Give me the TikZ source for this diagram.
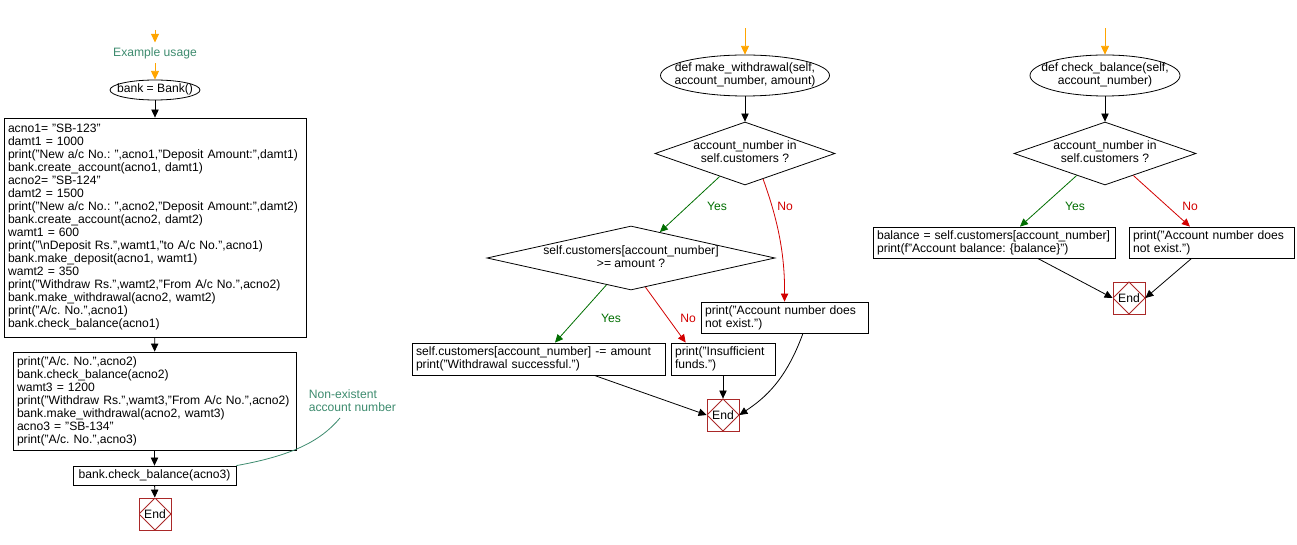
\documentclass[tikz,border=0pt]{standalone}
\usepackage{fontspec}
\setmainfont{Liberation Sans}
\usetikzlibrary{shapes.geometric,arrows.meta,calc}
\definecolor{orng}{RGB}{255,165,0}
\definecolor{cmt}{RGB}{61,139,110}
\definecolor{ygreen}{RGB}{0,110,0}
\definecolor{nred}{RGB}{210,0,0}
\definecolor{endred}{RGB}{170,40,40}
\frenchspacing
\newcommand{\zw}[1]{\makebox[0pt]{\begin{tabular}{@{}c@{}}#1\end{tabular}}}
\begin{document}
\begin{tikzpicture}[x=0.75pt,y=-0.75pt,line width=0.6pt,
  every node/.style={font=\fontsize{9.1}{9.75}\selectfont},
  box/.style={draw,rectangle,inner xsep=3pt,inner ysep=0pt,align=left},
  ell/.style={draw,ellipse,inner sep=0pt,align=center},
  dia/.style={draw,diamond,inner sep=0pt,align=center},
  endbox/.style={draw=endred,rectangle,minimum size=24pt,inner sep=0pt,
    path picture={\draw[endred] (path picture bounding box.north) -- (path picture bounding box.east) -- (path picture bounding box.south) -- (path picture bounding box.west) -- cycle;}},
  arr/.style={-{Triangle[length=6pt,width=5.5pt]}},
  oarr/.style={draw=orng,-{Triangle[length=6.5pt,width=6pt]}},
  yesline/.style={draw=ygreen,arr},
  noline/.style={draw=nred,arr},
  ylbl/.style={text=ygreen},
  nlbl/.style={text=nred},
  cmtxt/.style={text=cmt,align=left}]
\useasboundingbox (0,0) rectangle (1297,545);

% ---------------- left column ----------------
\coordinate (s1) at (155,30);
\node[cmtxt] (ex) at (155,53) {Example usage};
\node[ell,minimum width=67.5pt,minimum height=15pt] (bank) at (155,90) {\zw{bank = Bank()}};
\node[box,minimum width=226.5pt,minimum height=164.25pt,text width=220.5pt] (b1) at (155,227.5) {acno1= "SB-123"\\
damt1 = 1000\\
print("New a/c No.: ",acno1,"Deposit Amount:",damt1)\\
bank.create\_account(acno1, damt1)\\
acno2= "SB-124"\\
damt2 = 1500\\
print("New a/c No.: ",acno2,"Deposit Amount:",damt2)\\
bank.create\_account(acno2, damt2)\\
wamt1 = 600\\
print("\textbackslash nDeposit Rs.",wamt1,"to A/c No.",acno1)\\
bank.make\_deposit(acno1, wamt1)\\
wamt2 = 350\\
print("Withdraw Rs.",wamt2,"From A/c No.",acno2)\\
bank.make\_withdrawal(acno2, wamt2)\\
print("A/c. No.",acno1)\\
bank.check\_balance(acno1)};
\node[box,minimum width=212.25pt,minimum height=73.5pt,text width=206.25pt] (b2) at (154.5,401) {print("A/c. No.",acno2)\\
bank.check\_balance(acno2)\\
wamt3 = 1200\\
print("Withdraw Rs.",wamt3,"From A/c No.",acno2)\\
bank.make\_withdrawal(acno2, wamt3)\\
acno3 = "SB-134"\\
print("A/c. No.",acno3)};
\node[box,minimum width=122.25pt,minimum height=14.25pt,align=center] (b3) at (154.5,475.5) {bank.check\_balance(acno3)};
\node[endbox] (e1) at (155,514) {End};
\node[cmtxt,anchor=west] (nc) at (304,401) {Non-existent\\account number};
\coordinate (ncend) at (340,418);

\draw[oarr] (s1) -- (ex);
\draw[oarr] (ex) -- (bank);
\draw[arr] (bank) -- (b1);
\draw[arr] (b1) -- (b2);
\draw[arr] (b2) -- (b3);
\draw[arr] (b3) -- (e1);
\draw[cmt] (ncend) .. controls (320,442) and (290,456) .. (b3.north east);

% ---------------- middle column ----------------
\coordinate (s2) at (745,28);
\node[ell,minimum width=126.75pt,minimum height=30.75pt] (mw) at (745,75.5) {\zw{def make\_withdrawal(self,\\account\_number, amount)}};
\node[dia,minimum width=135pt,minimum height=47.25pt] (d1) at (745,153.5) {\zw{account\_number in\\self.customers ?}};
\node[dia,minimum width=216pt,minimum height=48pt] (d2) at (631,258) {\zw{self.customers[account\_number]\\>= amount ?}};
\node[box,minimum width=189.75pt,minimum height=24pt,text width=183.75pt] (pw) at (538.5,359) {self.customers[account\_number] -= amount\\print("Withdrawal successful.")};
\node[box,minimum width=78pt,minimum height=24pt,text width=72pt] (pi) at (723,359) {print("Insufficient\\funds.")};
\node[box,minimum width=125.25pt,minimum height=23.25pt,text width=119.25pt] (pa) at (784.5,317.5) {print("Account number does\\not exist.")};
\node[endbox] (e2) at (723,415) {End};
\node[ylbl] (y1) at (717,206) {Yes};
\node[nlbl] (n1) at (785,206) {No};
\node[ylbl] (y2) at (611,318) {Yes};
\node[nlbl] (n2) at (688,318) {No};

\draw[oarr] (s2) -- (mw);
\draw[arr] (mw) -- (d1);
\draw[yesline] ($(d1.west)!0.72!(d1.south)$) -- ($(d2.north)!0.2!(d2.east)$);
\draw[noline] ($(d1.south)!0.2!(d1.east)$) .. controls (776,215) and (785,250) .. (pa.north);
\draw[yesline] ($(d2.west)!0.83!(d2.south)$) -- ($(pw.north west)!0.565!(pw.north east)$);
\draw[noline] ($(d2.south)!0.1!(d2.east)$) -- ($(pi.north west)!0.144!(pi.north east)$);
\draw[arr] ($(pw.south west)!0.72!(pw.south east)$) -- (e2.west);
\draw[arr] (pi) -- (e2);
\draw[arr] ($(pa.south west)!0.61!(pa.south east)$) .. controls (786,380) and (765,398) .. (e2.east);

% ---------------- right column ----------------
\coordinate (s3) at (1105,28);
\node[ell,minimum width=112.5pt,minimum height=30.75pt] (cb) at (1105,75.5) {\zw{def check\_balance(self,\\account\_number)}};
\node[dia,minimum width=136.5pt,minimum height=47.25pt] (d3) at (1105,153.5) {\zw{account\_number in\\self.customers ?}};
\node[box,minimum width=181.5pt,minimum height=23.25pt,text width=175.5pt] (bal) at (994,242.5) {balance = self.customers[account\_number]\\print(f"Account balance: \{balance\}")};
\node[box,minimum width=123.75pt,minimum height=23.25pt,text width=117.75pt] (pa2) at (1211.5,242.5) {print("Account number does\\not exist.")};
\node[endbox] (e3) at (1129,298) {End};
\node[ylbl] (y3) at (1075,206) {Yes};
\node[nlbl] (n3) at (1190,206) {No};

\draw[oarr] (s3) -- (cb);
\draw[arr] (cb) -- (d3);
\draw[yesline] ($(d3.west)!0.69!(d3.south)$) -- ($(bal.north west)!0.607!(bal.north east)$);
\draw[noline] ($(d3.south)!0.31!(d3.east)$) -- ($(pa2.north west)!0.37!(pa2.north east)$);
\draw[arr] ($(bal.south west)!0.68!(bal.south east)$) -- (e3.west);
\draw[arr] ($(pa2.south west)!0.38!(pa2.south east)$) -- (e3.east);
\end{tikzpicture}
\end{document}
